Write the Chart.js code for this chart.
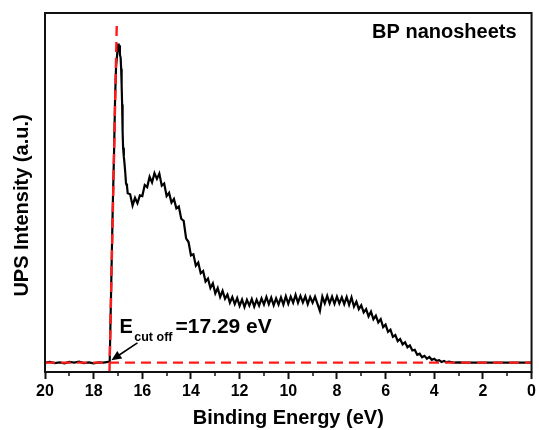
<!DOCTYPE html>
<html><head><meta charset="utf-8">
<script src="https://cdn.jsdelivr.net/npm/chart.js@4.4.0/dist/chart.umd.min.js"></script>
<style>html,body{margin:0;padding:0;background:#fff;} #wrap{width:539px;height:430px;}</style>
</head><body><div id="wrap"><canvas id="c" width="539" height="430"></canvas></div>
<script>
// Measured UPS spectrum (binding energy in eV, intensity in arbitrary units)
const energy = [
20.0,19.8,19.6,19.4,19.2,19.0,18.8,18.6,18.4,18.2,18.0,17.8,17.6,17.4,
17.34,17.29,17.22,17.16,17.12,17.08,17.03,16.99,16.97,16.95,16.92,16.89,16.87,16.85,16.83,16.81,16.79,16.76,16.73,16.70,16.67,16.63,16.60,
16.5,16.4,16.3,16.2,16.1,16.0,15.9,15.8,15.7,15.6,15.5,15.4,15.3,15.2,15.1,15.0,
14.9,14.8,14.7,14.6,14.5,14.4,14.3,14.2,14.1,14.0,13.9,13.8,13.7,13.6,13.5,13.4,13.3,13.2,13.1,13.0,
12.9,12.8,12.7,12.6,12.5,12.4,12.3,12.2,12.1,12.0,11.9,11.8,11.7,11.6,11.5,11.4,11.3,11.2,11.1,11.0,
10.9,10.8,10.7,10.6,10.5,10.4,10.3,10.2,10.1,10.0,9.9,9.8,9.7,9.6,9.5,9.4,9.3,9.2,9.1,9.0,
8.9,8.8,8.7,8.6,8.5,8.4,8.3,8.2,8.1,8.0,7.9,7.8,7.7,7.6,7.5,7.4,7.3,7.2,7.1,7.0,
6.9,6.8,6.7,6.6,6.5,6.4,6.3,6.2,6.1,6.0,5.9,5.8,5.7,5.6,5.5,5.4,5.3,5.2,5.1,5.0,
4.9,4.8,4.7,4.6,4.5,4.4,4.3,4.2,4.1,4.0,3.9,3.8,3.7,3.6,3.5,3.4,3.2,3.0,
2.8,2.5,2.2,2.0,1.5,1.0,0.5,0.0
];
const intensity = [
2.6,2.8,2.5,2.7,2.4,2.8,2.6,2.9,2.5,2.7,2.4,2.7,2.6,2.8,
2.8,20.1,44.3,61.8,75.8,85.0,88.8,91.5,89.6,91.0,88.4,87.5,84.5,80.0,74.5,67.0,62.5,60.0,58.0,55.5,52.5,51.8,49.8,
49.5,46.4,48.5,47.0,49.2,49.0,52.1,51.5,54.4,52.8,55.4,53.8,55.3,51.9,52.5,49.0,
49.9,47.2,48.2,45.6,46.1,42.7,42.1,37.2,36.2,32.5,32.8,29.6,30.5,27.5,28.1,25.2,26.0,23.4,24.7,21.9,
23.4,20.9,22.6,20.4,21.6,19.3,20.9,18.9,20.6,18.4,20.2,18.1,20.1,18.5,20.3,18.2,20.1,18.5,20.5,18.8,
20.9,18.9,20.7,18.6,20.5,18.8,20.8,18.8,21.1,19.0,21.0,19.3,21.5,19.3,21.2,19.4,21.1,18.9,20.9,19.3,
21.0,19.0,17.0,21.0,19.1,21.2,19.1,21.0,19.0,21.0,19.1,20.8,18.9,20.9,18.7,20.8,18.2,19.6,17.5,18.6,
16.6,17.5,15.5,16.8,14.7,15.7,13.8,14.7,12.5,13.2,11.2,11.8,9.8,10.3,8.6,9.2,7.7,8.3,6.9,7.4,
6.0,6.2,4.8,5.1,4.1,4.5,3.7,4.2,3.4,3.7,3.1,3.3,2.8,3.1,2.7,2.9,2.6,2.7,
2.6,2.65,2.6,2.65,2.6,2.6,2.6,2.6
];
// Linear-fit guide lines (red dashed)
const cutoffEnergy = [17.35, 17.05];
const cutoffIntensity = [0, 96.7];
const baseEnergy = [20, 0];
const baseIntensity = [2.6, 2.6];
// Axis
const xMin = 0, xMax = 20, xStep = 2, yMin = 0, yMax = 100;
// Annotation (data units)
const arrowFrom = [16.20, 8.1];
const arrowTo = [17.27, 3.3];
const labelAnchor = [16.94, 10.9];
const labelMain = 'E', labelSub = 'cut off', labelRest = '=17.29 eV';
const sampleName = 'BP nanosheets';
const xTitle = 'Binding Energy (eV)';
const yTitle = 'UPS Intensity (a.u.)';

const FONT = '"Liberation Sans", Arial, Helvetica, sans-serif';
const toPts = (xs, ys) => xs.map((x, i) => ({x: x, y: ys[i]}));

const decor = {
  id: 'decor',
  afterDraw(chart) {
    const ctx = chart.ctx, a = chart.chartArea;
    const xs = chart.scales.x, ys = chart.scales.y;
    ctx.save();
    // frame
    ctx.strokeStyle = '#111'; ctx.lineWidth = 2;
    ctx.strokeRect(a.left, a.top, a.right - a.left, a.bottom - a.top);
    // minor ticks
    ctx.lineWidth = 1.5;
    for (let v = xMin + 1; v < xMax; v += xStep) {
      const px = Math.round(xs.getPixelForValue(v));
      ctx.beginPath(); ctx.moveTo(px, a.bottom); ctx.lineTo(px, a.bottom + 4); ctx.stroke();
    }
    // y title
    ctx.fillStyle = '#000';
    ctx.font = 'bold 20px ' + FONT;
    ctx.textAlign = 'center'; ctx.textBaseline = 'middle';
    ctx.translate(22, (a.top + a.bottom) / 2 + 13);
    ctx.rotate(-Math.PI / 2);
    ctx.fillText(yTitle, 0, 0);
    ctx.setTransform(1, 0, 0, 1, 0, 0);
    // sample name
    ctx.textAlign = 'right'; ctx.textBaseline = 'alphabetic';
    ctx.font = 'bold 20px ' + FONT;
    ctx.fillText(sampleName, a.right - 15, a.top + 25);
    // annotation text
    ctx.textAlign = 'left';
    let x0 = xs.getPixelForValue(labelAnchor[0]);
    const y0 = ys.getPixelForValue(labelAnchor[1]);
    ctx.font = 'bold 20px ' + FONT;
    ctx.fillText(labelMain, x0, y0);
    x0 += ctx.measureText(labelMain).width + 1.5;
    ctx.font = 'bold 12.5px ' + FONT;
    ctx.fillText(labelSub, x0, y0 + 8.5);
    x0 += ctx.measureText(labelSub).width + 3;
    ctx.font = 'bold 21px ' + FONT;
    ctx.fillText(labelRest, x0, y0);
    // arrow
    const ax0 = xs.getPixelForValue(arrowFrom[0]), ay0 = ys.getPixelForValue(arrowFrom[1]);
    const ax1 = xs.getPixelForValue(arrowTo[0]), ay1 = ys.getPixelForValue(arrowTo[1]);
    const ang = Math.atan2(ay1 - ay0, ax1 - ax0);
    const hl = 10, hw = 4.5;
    ctx.strokeStyle = '#000'; ctx.lineWidth = 1.6;
    ctx.beginPath(); ctx.moveTo(ax0, ay0);
    ctx.lineTo(ax1 - Math.cos(ang) * hl * 0.8, ay1 - Math.sin(ang) * hl * 0.8); ctx.stroke();
    ctx.beginPath();
    ctx.moveTo(ax1, ay1);
    ctx.lineTo(ax1 - Math.cos(ang) * hl + Math.sin(ang) * hw, ay1 - Math.sin(ang) * hl - Math.cos(ang) * hw);
    ctx.lineTo(ax1 - Math.cos(ang) * hl - Math.sin(ang) * hw, ay1 - Math.sin(ang) * hl + Math.cos(ang) * hw);
    ctx.closePath(); ctx.fillStyle = '#000'; ctx.fill();
    ctx.restore();
  }
};

new Chart(document.getElementById('c'), {
  type: 'scatter',
  data: {
    datasets: [
      {data: toPts(cutoffEnergy, cutoffIntensity), showLine: true, borderColor: '#ff1a1a', borderWidth: 2.4, borderDash: [10, 6], pointRadius: 0, fill: false},
      {data: toPts(baseEnergy, baseIntensity), showLine: true, borderColor: '#ff1a1a', borderWidth: 2.4, borderDash: [10, 6], pointRadius: 0, fill: false},
      {data: toPts(energy, intensity), showLine: true, borderColor: '#000', borderWidth: 2.2, pointRadius: 0, tension: 0, fill: false}
    ]
  },
  options: {
    responsive: false, animation: false, devicePixelRatio: 1,
    layout: {padding: {top: 13, right: 4, left: 0, bottom: 0}},
    plugins: {legend: {display: false}, tooltip: {enabled: false}},
    scales: {
      x: {
        type: 'linear', reverse: true, min: xMin, max: xMax,
        afterFit: s => { s.height = 58; },
        border: {display: false},
        grid: {display: true, drawOnChartArea: false, drawTicks: true, tickLength: 7, tickWidth: 2, tickColor: '#111', color: '#111'},
        ticks: {stepSize: xStep, autoSkip: false, maxRotation: 0, padding: 3, color: '#000', font: {family: FONT, size: 16, weight: 'bold'}},
        title: {display: true, text: xTitle, color: '#000', padding: {top: 0, bottom: 0}, font: {family: FONT, size: 20, weight: 'bold'}}
      },
      y: {
        type: 'linear', min: yMin, max: yMax,
        afterFit: s => { s.width = 45; },
        border: {display: false},
        grid: {display: false},
        ticks: {display: false}
      }
    }
  },
  plugins: [decor]
});
</script>
</body></html>
